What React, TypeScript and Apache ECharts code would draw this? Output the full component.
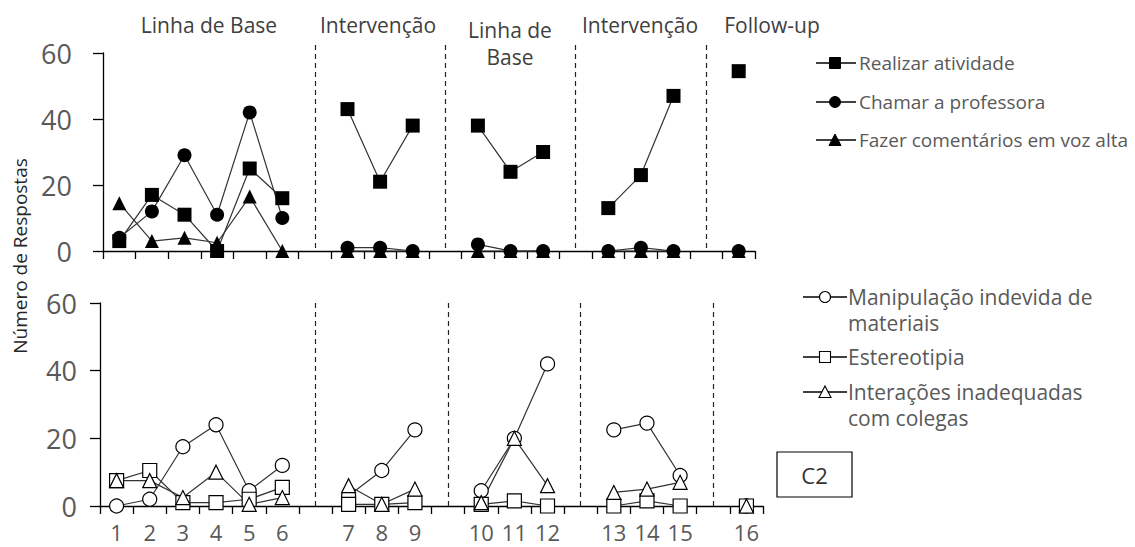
import React, { useEffect, useRef } from "react";
import * as echarts from "echarts";

// Sessions and phases
const sessionLabels = ["1","2","3","4","5","6","7","8","9","10","11","12","13","14","15","16"];
const phaseSizes = [6, 3, 3, 3, 1];
const phaseNames = ["Linha de Base", "Intervenção", "Linha de\nBase", "Intervenção", "Follow-up"];

// Top panel series (filled markers)
const realizarAtividade = [3, 17, 11, 0, 25, 16, 43, 21, 38, 38, 24, 30, 13, 23, 47, 54.5];
const chamarProfessora = [4, 12, 29, 11, 42, 10, 1, 1, 0, 2, 0, 0, 0, 1, 0, 0];
const fazerComentarios = [14.5, 3, 4, 2.5, 16.5, 0, 0, 0, 0, 0, 0, 0, 0, 0, 0, 0];

// Bottom panel series (open markers)
const manipulacao = [0, 2, 17.5, 24, 4.5, 12, 3, 10.5, 22.5, 4.5, 20, 42, 22.5, 24.5, 9, 0];
const estereotipia = [7.5, 10.5, 1, 1, 2, 5.5, 0.5, 0.5, 1, 0.5, 1.5, 0, 0, 1.5, 0, 0];
const interacoes = [7.5, 7.5, 2.5, 10, 0.5, 2.5, 6, 0.5, 5, 1, 20, 6, 4, 5, 7, 0];

const yTicks = [0, 20, 40, 60];

// Build category slots: a blank slot between phases
function buildCategories(): { cats: string[]; gaps: number[] } {
  const cats: string[] = [];
  const gaps: number[] = [];
  let s = 0;
  phaseSizes.forEach((n, p) => {
    for (let i = 0; i < n; i++) cats.push(sessionLabels[s++]);
    if (p < phaseSizes.length - 1) {
      gaps.push(cats.length);
      cats.push(" ".repeat(p + 1));
    }
  });
  return { cats, gaps };
}
const { cats: categories, gaps: gapSlots } = buildCategories();

function toSlots(values: number[]): (number | null)[] {
  const out: (number | null)[] = [];
  let s = 0;
  phaseSizes.forEach((n, p) => {
    for (let i = 0; i < n; i++) out.push(values[s++]);
    if (p < phaseSizes.length - 1) out.push(null);
  });
  return out;
}

const FONT = "Open Sans";
const LINE = "#333333";

export default function App() {
  const ref = useRef<HTMLDivElement>(null);
  useEffect(() => {
    if (!ref.current) return;
    const chart = echarts.init(ref.current, null, { renderer: "svg" });

    const mkSeries = (name: string, data: number[], grid: number, symbol: string, filled: boolean, size: number, extra: any = {}) => ({
      name,
      type: "line",
      xAxisIndex: grid,
      yAxisIndex: grid,
      data: toSlots(data),
      symbol,
      symbolSize: size,
      connectNulls: false,
      clip: false,
      lineStyle: { color: LINE, width: 1.2 },
      itemStyle: filled
        ? { color: "#000", borderColor: "#000", borderWidth: 0 }
        : { color: "#fff", borderColor: "#000", borderWidth: 1.2 },
      emphasis: { disabled: true },
      ...extra,
    });

    const dashed = (topY: number | null) => ({
      silent: true,
      symbol: "none",
      label: { show: false },
      lineStyle: { type: [5, 4], color: "#222", width: 1.2 },
      data: gapSlots.map((g) => [
        topY == null ? { coord: [g, 60] } : { coord: [g, 60], y: topY },
        { coord: [g, 0] },
      ]),
    });

    const xAxisBase = (grid: number, showLabels: boolean) => ({
      type: "category",
      gridIndex: grid,
      data: categories,
      boundaryGap: true,
      axisLine: { lineStyle: { color: "#000", width: 1.3 } },
      axisTick: { show: true, interval: 0, length: 8, lineStyle: { color: "#000", width: 1.3 } },
      axisLabel: {
        show: showLabels,
        interval: 0,
        margin: 15,
        fontSize: 22,
        fontFamily: FONT,
        color: "#595959",
      },
      splitLine: { show: false },
    });

    const yAxisBase = (grid: number, margin: number) => ({
      type: "value",
      gridIndex: grid,
      min: yTicks[0],
      max: yTicks[yTicks.length - 1],
      interval: 20,
      axisLine: { show: true, lineStyle: { color: "#000", width: 1.3 } },
      axisTick: { show: true, length: 10, lineStyle: { color: "#000", width: 1.3 } },
      axisLabel: { margin, fontSize: 27, fontFamily: FONT, color: "#595959" },
      splitLine: { show: false },
    });

    // Legend graphics
    const legendMarker = (kind: string, filled: boolean, cx: number, cy: number, x1: number, x2: number) => {
      const st = filled ? { fill: "#000", stroke: "#000", lineWidth: 1 } : { fill: "#fff", stroke: "#000", lineWidth: 1.1 };
      const r = 5.5;
      let shape: any;
      if (kind === "rect") shape = { type: "rect", shape: { x: cx - r, y: cy - r, width: 2 * r, height: 2 * r }, style: st };
      else if (kind === "circle") shape = { type: "circle", shape: { cx, cy, r }, style: st };
      else shape = { type: "polygon", shape: { points: [[cx, cy - r - 0.5], [cx + r + 0.5, cy + r], [cx - r - 0.5, cy + r]] }, style: st };
      return [
        { type: "line", shape: { x1, y1: cy, x2, y2: cy }, style: { stroke: "#000", lineWidth: 1.5 } },
        shape,
      ];
    };
    const legendText = (text: string, x: number, y: number, size: number) => ({
      type: "text",
      x,
      y,
      style: { text, fontSize: size, fontFamily: FONT, fill: "#595959", verticalAlign: "middle", align: "left" },
    });

    const topLegend = [
      { label: "Realizar atividade", kind: "rect", y: 63 },
      { label: "Chamar a professora", kind: "circle", y: 102 },
      { label: "Fazer comentários em voz alta", kind: "triangle", y: 140 },
    ];
    const bottomLegend = [
      { label: ["Manipulação indevida de", "materiais"], kind: "circle", y: 297 },
      { label: ["Estereotipia"], kind: "rect", y: 357 },
      { label: ["Interações inadequadas", "com colegas"], kind: "triangle", y: 392 },
    ];

    const graphics: any[] = [];
    topLegend.forEach((l) => {
      graphics.push(...legendMarker(l.kind, true, 835, l.y, 816, 856));
      graphics.push(legendText(l.label, 859, l.y, 19));
    });
    bottomLegend.forEach((l) => {
      graphics.push(...legendMarker(l.kind, false, 825, l.y, 803, 847));
      l.label.forEach((t, i) => graphics.push(legendText(t, 848, l.y + i * 26, 21)));
    });

    // Phase labels
    const phaseCenters = [209, 378, 510, 640, 772];
    phaseNames.forEach((name, i) => {
      const lines = name.split("\n");
      lines.forEach((t, j) =>
        graphics.push({
          type: "text",
          x: phaseCenters[i],
          y: (lines.length > 1 ? 30 : 25) + j * 27,
          style: { text: t, fontSize: 21, fontFamily: FONT, fill: "#404040", align: "center", verticalAlign: "middle" },
        })
      );
    });

    // Y-axis title
    graphics.push({
      type: "text",
      x: 20,
      y: 256,
      rotation: Math.PI / 2,
      style: { text: "Número de Respostas", fontSize: 19, fontFamily: FONT, fill: "#262626", align: "center", verticalAlign: "middle" },
    });

    // C2 box
    graphics.push({
      type: "rect",
      shape: { x: 777, y: 452, width: 75, height: 45 },
      style: { fill: "#fff", stroke: "#000", lineWidth: 1.2 },
    });
    graphics.push({
      type: "text",
      x: 814.5,
      y: 475,
      style: { text: "C2", fontSize: 22, fontFamily: FONT, fill: "#333", align: "center", verticalAlign: "middle" },
    });

    chart.setOption({
      animation: false,
      backgroundColor: "#fff",
      grid: [
        { left: 103, top: 53, width: 652, height: 198 },
        { left: 100, top: 303, width: 663, height: 203 },
      ],
      xAxis: [xAxisBase(0, false), xAxisBase(1, true)],
      yAxis: [yAxisBase(0, 31), yAxisBase(1, 23)],
      series: [
        mkSeries("Realizar atividade", realizarAtividade, 0, "rect", true, 14, { markLine: dashed(45) }),
        mkSeries("Chamar a professora", chamarProfessora, 0, "circle", true, 14),
        mkSeries("Fazer comentários em voz alta", fazerComentarios, 0, "triangle", true, 14),
        mkSeries("Manipulação indevida de materiais", manipulacao, 1, "circle", false, 14, { markLine: dashed(null) }),
        mkSeries("Estereotipia", estereotipia, 1, "rect", false, 14),
        mkSeries("Interações inadequadas com colegas", interacoes, 1, "triangle", false, 14),
      ],
      graphic: graphics,
    });
    return () => chart.dispose();
  }, []);
  return <div ref={ref} style={{ position: "absolute", left: 0, top: 0, width: 1135, height: 547 }} />;
}
